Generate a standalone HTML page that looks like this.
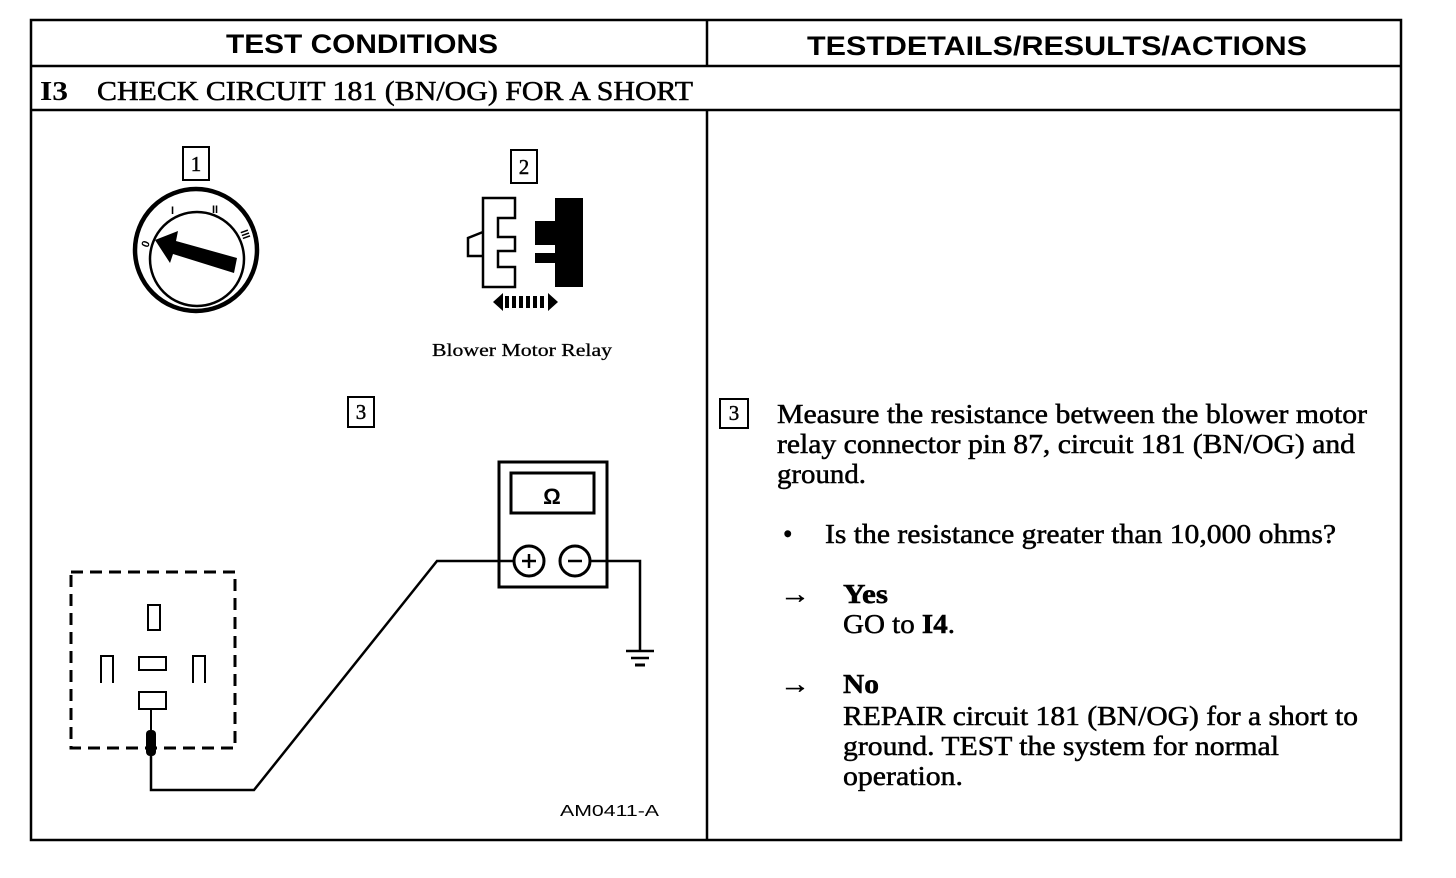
<!DOCTYPE html>
<html><head><meta charset="utf-8"><style>
html,body{margin:0;padding:0;background:#fff;}
svg{display:block}
.s{font-family:"Liberation Serif",serif;font-size:27px;fill:#000}
.h{font-family:"Liberation Sans",sans-serif;font-weight:bold;font-size:27px;fill:#000}
</style></head><body>
<svg width="1456" height="878" viewBox="0 0 1456 878" xmlns="http://www.w3.org/2000/svg">
<g stroke="#000" stroke-width="2.5" fill="none">
<rect x="31" y="20" width="1370" height="820"/>
<line x1="31" y1="66" x2="1401" y2="66"/>
<line x1="31" y1="110" x2="1401" y2="110"/>
<line x1="707" y1="20" x2="707" y2="66"/>
<line x1="707" y1="110" x2="707" y2="840"/>
</g>
<text class="h" x="362" y="53" text-anchor="middle" textLength="272" lengthAdjust="spacingAndGlyphs">TEST CONDITIONS</text>
<text class="h" x="1057" y="55" text-anchor="middle" textLength="500" lengthAdjust="spacingAndGlyphs">TESTDETAILS/RESULTS/ACTIONS</text>
<text class="s" x="40" y="100" font-weight="bold" textLength="28" lengthAdjust="spacingAndGlyphs">I3</text>
<text class="s" x="97" y="100" stroke="#000" stroke-width="0.5" textLength="596" lengthAdjust="spacingAndGlyphs">CHECK CIRCUIT 181 (BN/OG) FOR A SHORT</text>

<g stroke="#000" stroke-width="2" fill="none">
<rect x="183" y="147" width="26" height="33"/>
<rect x="511" y="150" width="26" height="33"/>
<rect x="348" y="397" width="26" height="30"/>
<rect x="720" y="399" width="28" height="29"/>
</g>
<g style="font-family:'Liberation Serif',serif;font-size:21px" stroke="#000" stroke-width="0.4">
<text x="196" y="171" text-anchor="middle">1</text>
<text x="524" y="174" text-anchor="middle">2</text>
<text x="361" y="419" text-anchor="middle">3</text>
<text x="734" y="420" text-anchor="middle">3</text>
</g>

<circle cx="196" cy="250" r="61" stroke="#000" stroke-width="4.5" fill="none"/>
<circle cx="197" cy="259" r="47" stroke="#000" stroke-width="2.5" fill="none"/>
<polygon points="155,240 178,231 176,241 237,258 234,273 173,254 170,263" fill="#000"/>
<g font-family="Liberation Sans,sans-serif" font-size="11" font-weight="bold">
<text x="141" y="246" transform="rotate(-70 146 242)">0</text>
<text x="171" y="214">I</text>
<text x="212" y="213">II</text>
<text x="237" y="236" transform="rotate(70 242 236)">III</text>
</g>

<path d="M483,198 H515 V218 H498 V237 H515 V251 H498 V267 H515 V287 H483 Z" fill="#fff" stroke="#000" stroke-width="2.5"/>
<path d="M483,232 L468,238 V256 H483" fill="none" stroke="#000" stroke-width="2.5"/>
<path d="M555,198 H583 V287 H555 V263 H535 V253 H555 V245 H535 V221 H555 Z" fill="#000"/>
<polygon points="493,302 503,293 503,311" fill="#000"/>
<polygon points="558,302 548,293 548,311" fill="#000"/>
<g stroke="#000" stroke-width="4">
<line x1="507" y1="296" x2="507" y2="308"/><line x1="514" y1="296" x2="514" y2="308"/>
<line x1="521" y1="296" x2="521" y2="308"/><line x1="528" y1="296" x2="528" y2="308"/>
<line x1="535" y1="296" x2="535" y2="308"/><line x1="542" y1="296" x2="542" y2="308"/>
</g>
<text x="522" y="356" text-anchor="middle" stroke="#000" stroke-width="0.3" style="font-family:'Liberation Serif',serif;font-size:18px" textLength="180" lengthAdjust="spacingAndGlyphs">Blower Motor Relay</text>

<g stroke="#000" fill="none" stroke-width="2.5">
<rect x="499" y="462" width="108" height="125" stroke-width="3"/>
<rect x="511" y="473" width="83" height="40" stroke-width="3"/>
<circle cx="529" cy="561" r="15" stroke-width="3"/>
<circle cx="575" cy="561" r="15" stroke-width="3"/>
<line x1="522" y1="561" x2="536" y2="561"/><line x1="529" y1="554" x2="529" y2="568"/>
<line x1="568" y1="561" x2="582" y2="561"/>
<polyline points="514,561 437,561 254,790 151,790 151,755"/>
<polyline points="590,561 640,561 640,651"/>
<line x1="626" y1="651" x2="654" y2="651"/>
<line x1="631" y1="658" x2="649" y2="658"/>
<line x1="635" y1="665" x2="645" y2="665" stroke-width="3"/>
<rect x="71" y="572" width="164" height="176" stroke-dasharray="12,7" stroke-width="3"/>
<rect x="148" y="605" width="12" height="25" stroke-width="2"/>
<polyline points="101,683 101,656 113,656 113,683" stroke-width="2"/>
<polyline points="193,683 193,656 205,656 205,683" stroke-width="2"/>
<rect x="139" y="657" width="27" height="13" stroke-width="2"/>
<rect x="139" y="692" width="27" height="17" stroke-width="2"/>
<line x1="151" y1="709" x2="151" y2="732" stroke-width="2"/>
</g>
<rect x="146" y="730" width="10" height="26" rx="4" fill="#000"/>
<text x="552" y="504" text-anchor="middle" style="font-family:'Liberation Sans',sans-serif;font-size:22px;font-weight:bold">Ω</text>
<text x="560" y="816" style="font-family:'Liberation Sans',sans-serif;font-size:16px" textLength="99" lengthAdjust="spacingAndGlyphs">AM0411-A</text>

<g style="font-family:'Liberation Serif',serif;font-size:27px" stroke="#000" stroke-width="0.5">
<text x="777" y="423" textLength="590" lengthAdjust="spacingAndGlyphs">Measure the resistance between the blower motor</text>
<text x="777" y="453" textLength="578" lengthAdjust="spacingAndGlyphs">relay connector pin 87, circuit 181 (BN/OG) and</text>
<text x="777" y="483" textLength="89" lengthAdjust="spacingAndGlyphs">ground.</text>
<text x="783" y="543">•</text>
<text x="825" y="543" textLength="511" lengthAdjust="spacingAndGlyphs">Is the resistance greater than 10,000 ohms?</text>
<text x="780" y="603" textLength="30" lengthAdjust="spacingAndGlyphs">→</text>
<text x="843" y="603" font-weight="bold" textLength="45" lengthAdjust="spacingAndGlyphs">Yes</text>
<text x="843" y="633" textLength="112" lengthAdjust="spacingAndGlyphs">GO to <tspan font-weight="bold">I4</tspan>.</text>
<text x="780" y="693" textLength="30" lengthAdjust="spacingAndGlyphs">→</text>
<text x="843" y="693" font-weight="bold" textLength="36" lengthAdjust="spacingAndGlyphs">No</text>
<text x="843" y="725" textLength="515" lengthAdjust="spacingAndGlyphs">REPAIR circuit 181 (BN/OG) for a short to</text>
<text x="843" y="755" textLength="436" lengthAdjust="spacingAndGlyphs">ground. TEST the system for normal</text>
<text x="843" y="785" textLength="120" lengthAdjust="spacingAndGlyphs">operation.</text>
</g>
</svg>
</body></html>
